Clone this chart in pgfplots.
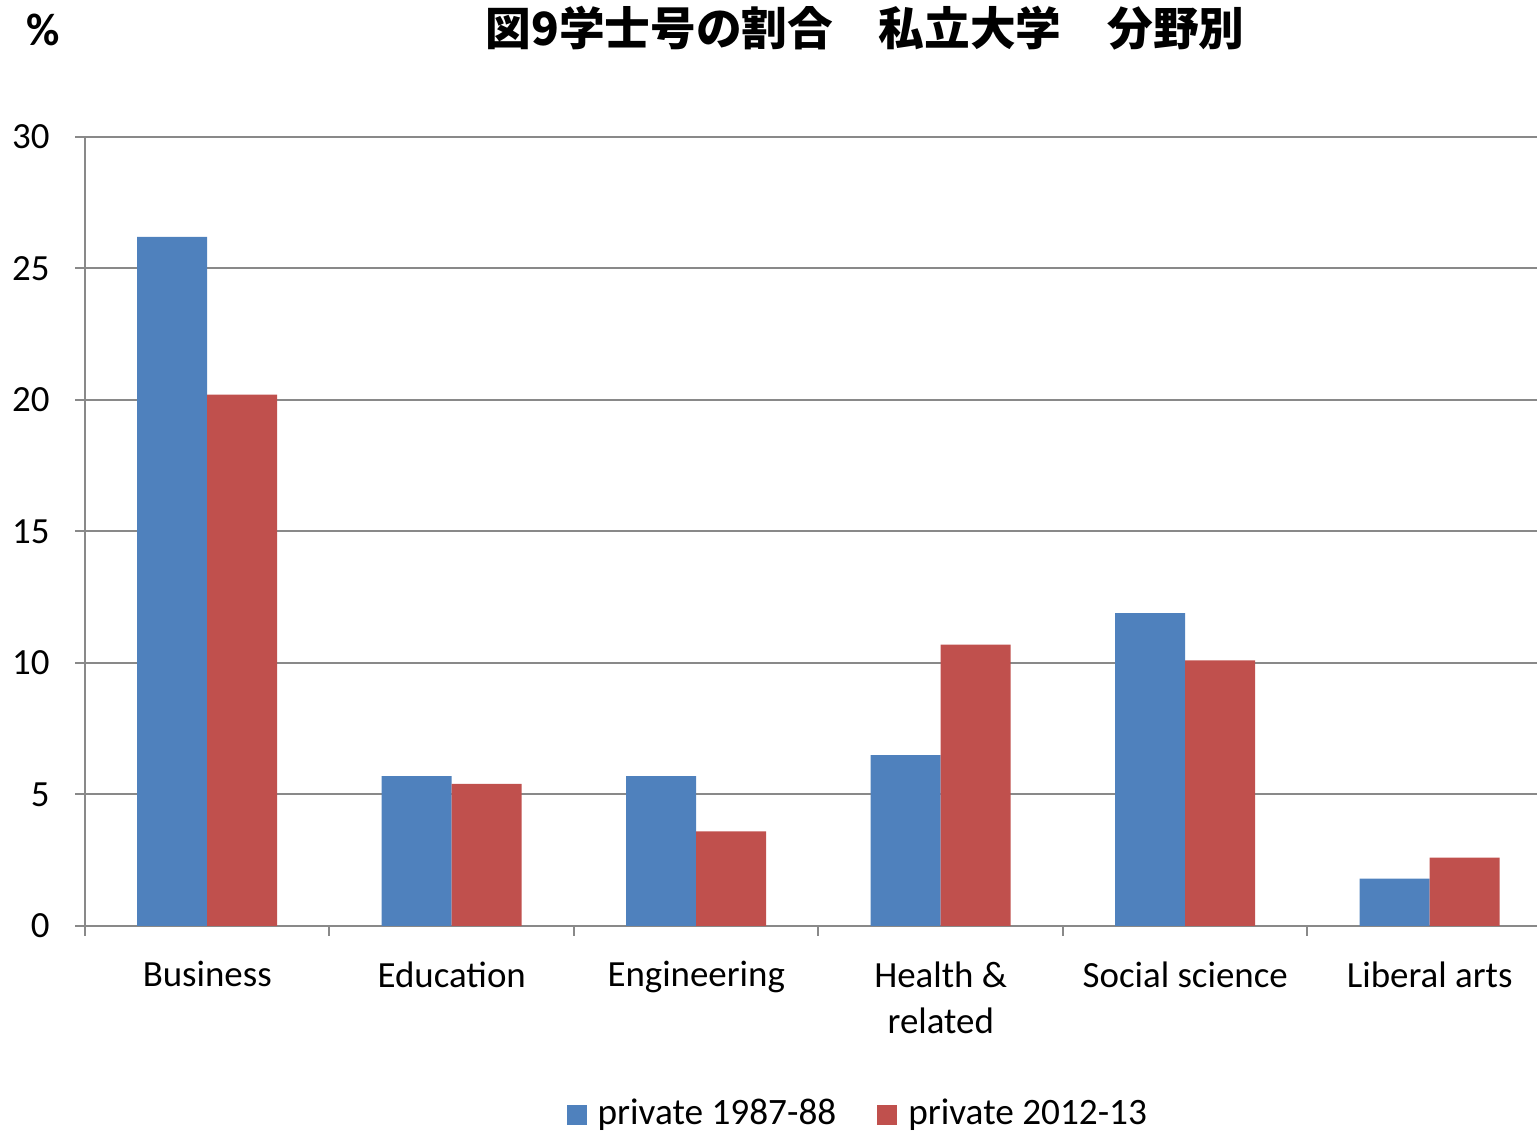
\documentclass[border=0pt]{standalone}
\usepackage{pgfplots}
\pgfplotsset{compat=1.18}
\usepackage{fontspec}
\setmainfont{Carlito}
\newfontfamily\cjk{Noto Sans CJK JP}
\definecolor{blueS}{HTML}{4F81BD}
\definecolor{redS}{HTML}{C0504D}
\definecolor{gridc}{HTML}{898989}

\begin{document}
\begin{tikzpicture}
\path[use as bounding box] (0,0) rectangle (153.7mm,113.4mm);
\begin{axis}[
  at={(8.5mm,20.8mm)}, anchor=south west,
  scale only axis, width=146.7mm, height=78.9mm,
  ybar=0pt, bar width=7mm,
  xmin=-0.5, xmax=5.5, ymin=0, ymax=30,
  ytick={0,5,...,30},
  xtick={-0.5,0.5,...,5.5}, xticklabels={},
  extra x ticks={0,1,2,3,4,5},
  extra x tick labels={Business,Education,Engineering,{Health \&\\related},Social science,Liberal arts},
  extra x tick style={major tick length=0pt},
  axis x line*=bottom, axis y line*=left,
  axis line style={gridc, line width=0.2mm},
  tick style={gridc, line width=0.2mm},
  tick align=outside, major tick length=1mm,
  ymajorgrids, grid style={gridc, line width=0.2mm},
  tick label style={font=\fontsize{10.5}{13.2}\selectfont},
  /pgf/number format/assume math mode=true,
  yticklabel style={xshift=-1.3mm},
  xticklabel style={align=center, yshift=-2.3mm},
  legend style={at={(0.5285,-0.239)}, anchor=center, legend columns=2,
    draw=none, font=\fontsize{10.6}{12}\selectfont,
    /tikz/every even column/.append style={column sep=3.4mm}},
]
\addplot[fill=blueS, draw=none,
  legend image code/.code={\fill[blueS] (0mm,-1mm) rectangle (2mm,1mm);
    \path (2.4mm,0mm);}]
  coordinates {(0,26.2)(1,5.7)(2,5.7)(3,6.5)(4,11.9)(5,1.8)};
\addlegendentry{private 1987-88}
\addplot[fill=redS, draw=none,
  legend image code/.code={\fill[redS] (0mm,-1mm) rectangle (2mm,1mm);
    \path (2.4mm,0mm);}]
  coordinates {(0,20.2)(1,5.4)(2,3.6)(3,10.7)(4,10.1)(5,2.6)};
\addlegendentry{private 2012-13}
\end{axis}
\node[font=\cjk\bfseries\fontsize{13}{15}\selectfont] at (86.5mm,110.6mm) {図9学士号の割合　私立大学　分野別};
\node[font=\bfseries\fontsize{13}{15}\selectfont] at (4.3mm,110.4mm) {\%};
\end{tikzpicture}
\end{document}
